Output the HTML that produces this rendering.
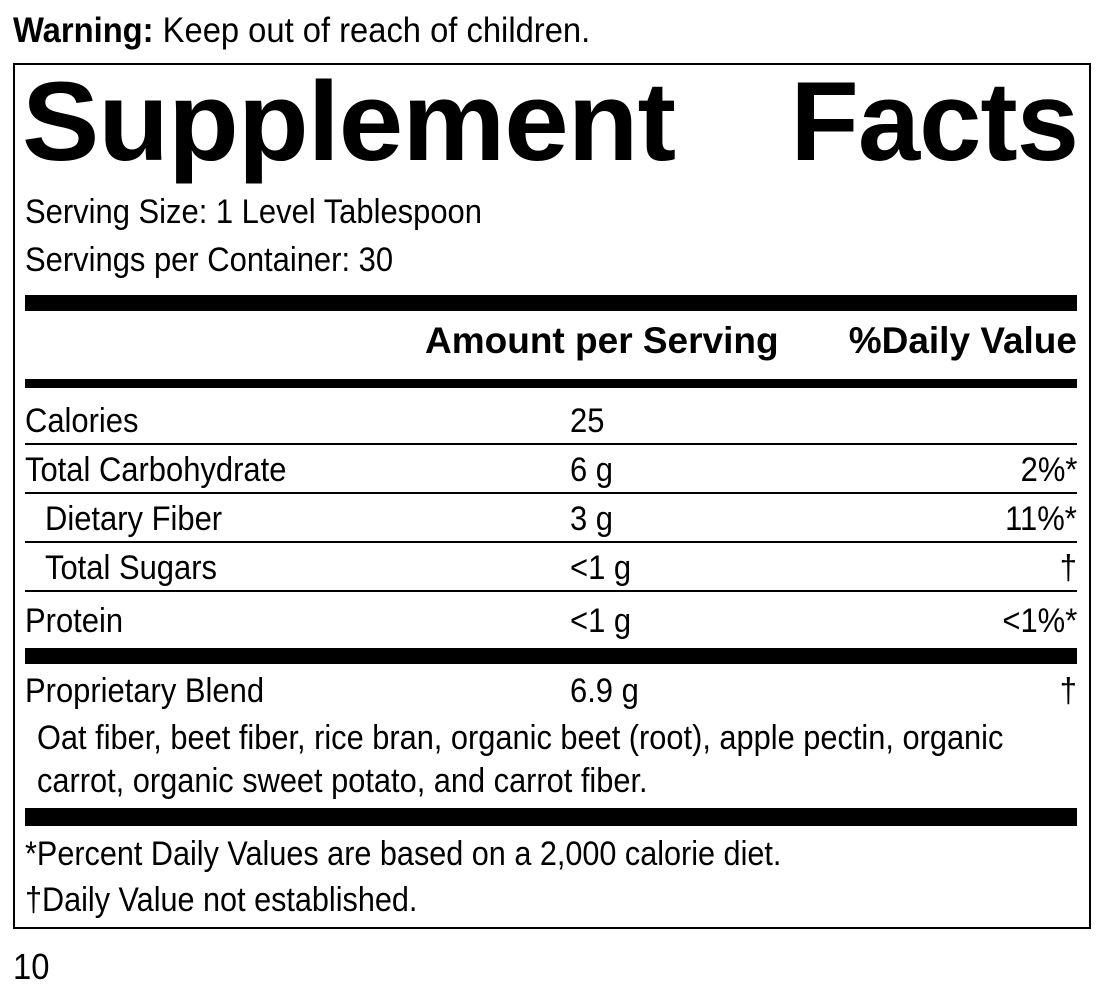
<!DOCTYPE html>
<html><head><meta charset="utf-8"><style>
body{margin:0;width:1100px;height:995px;background:#fff;position:relative;overflow:hidden;font-family:"Liberation Sans",sans-serif;color:#000}
.t{position:absolute;font-size:34px;line-height:34px;white-space:nowrap;transform:scaleX(0.91);transform-origin:left top}
.rr{transform-origin:right top}
.b{font-weight:bold;transform:none}
.bar{position:absolute;left:25px;width:1052px;background:#000}
</style></head><body>
<div class="t" style="left:13px;top:14px;font-size:35px;transform:scaleX(0.935)"><b>Warning:</b> Keep out of reach of children.</div>
<div style="position:absolute;left:13px;top:63px;width:1074px;height:862px;border:2px solid #000"></div>
<div style="position:absolute;left:22px;top:62px;font-weight:bold;font-size:112px;line-height:120px;letter-spacing:-1px;transform:scaleX(1.035);transform-origin:left top">Supplement</div>
<div style="position:absolute;right:22px;top:62px;font-weight:bold;font-size:112px;line-height:120px;letter-spacing:-1px">Facts</div>
<div class="t" style="left:25px;top:195px">Serving Size: 1 Level Tablespoon</div>
<div class="t" style="left:25px;top:243px">Servings per Container: 30</div>
<div class="bar" style="top:295px;height:16px"></div>
<div class="t b" style="left:425px;top:324px;font-size:37px">Amount per Serving</div>
<div class="t b" style="right:23px;top:324px;font-size:37px">%Daily Value</div>
<div class="bar" style="top:379px;height:9px"></div>

<div class="t" style="left:25px;top:404px">Calories</div>
<div class="t" style="left:570px;top:404px">25</div>
<div class="bar" style="top:443px;height:2px"></div>

<div class="t" style="left:25px;top:453px">Total Carbohydrate</div>
<div class="t" style="left:570px;top:453px">6 g</div>
<div class="t rr" style="right:23px;top:453px">2%*</div>
<div class="bar" style="top:492px;height:2px"></div>

<div class="t" style="left:45px;top:502px">Dietary Fiber</div>
<div class="t" style="left:570px;top:502px">3 g</div>
<div class="t rr" style="right:23px;top:502px">11%*</div>
<div class="bar" style="top:541px;height:2px"></div>

<div class="t" style="left:45px;top:551px">Total Sugars</div>
<div class="t" style="left:570px;top:551px">&lt;1 g</div>
<div class="t rr" style="right:23px;top:551px">†</div>
<div class="bar" style="top:590px;height:2px"></div>

<div class="t" style="left:25px;top:604px">Protein</div>
<div class="t" style="left:570px;top:604px">&lt;1 g</div>
<div class="t rr" style="right:23px;top:604px">&lt;1%*</div>
<div class="bar" style="top:648px;height:16px"></div>

<div class="t" style="left:25px;top:674px">Proprietary Blend</div>
<div class="t" style="left:570px;top:674px">6.9 g</div>
<div class="t rr" style="right:23px;top:674px">†</div>
<div class="t" style="left:37px;top:721px;transform:scaleX(0.905)">Oat fiber, beet fiber, rice bran, organic beet (root), apple pectin, organic</div>
<div class="t" style="left:37px;top:764px;transform:scaleX(0.905)">carrot, organic sweet potato, and carrot fiber.</div>
<div class="bar" style="top:808px;height:18px"></div>

<div class="t" style="left:25px;top:837px;transform:scaleX(0.9)">*Percent Daily Values are based on a 2,000 calorie diet.</div>
<div class="t" style="left:25px;top:883px;transform:scaleX(0.9)">†Daily Value not established.</div>
<div class="t" style="left:13px;top:950px;font-size:36px">10</div>
</body></html>
